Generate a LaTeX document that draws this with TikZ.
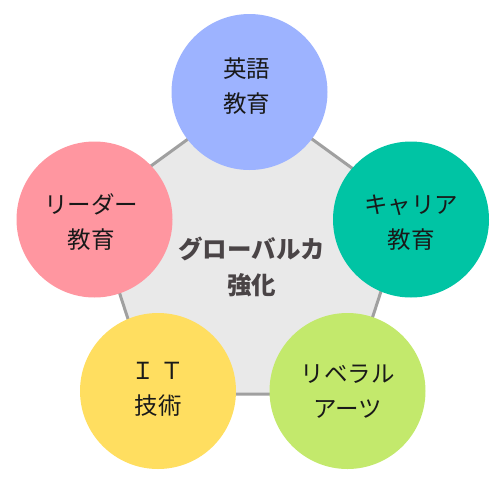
\documentclass[tikz,border=0pt]{standalone}
\usepackage{fontspec}
\setmainfont{Noto Sans CJK JP}
\definecolor{cblue}{HTML}{9DB3FF}
\definecolor{cpink}{HTML}{FF96A0}
\definecolor{cteal}{HTML}{00C4A4}
\definecolor{cyellow}{HTML}{FFDE60}
\definecolor{cgreen}{HTML}{C3E96C}
\definecolor{pfill}{HTML}{E9E9E9}
\definecolor{pline}{HTML}{A0A0A0}
\definecolor{ctext}{HTML}{4A4446}
\begin{document}
\begin{tikzpicture}[x=1pt,y=-1pt,
  bubble/.style={circle,minimum size=156pt,inner sep=0pt},
  lbl/.style={align=center,inner sep=0pt,
    font=\fontsize{23.5}{35}\selectfont,text=black!90},
  core/.style={align=center,inner sep=0pt,font=\fontsize{24.5}{36.5}\selectfont\bfseries,text=ctext}]
\useasboundingbox (0,0) rectangle (504,483);
% pentagon
\coordinate (p1) at (250,94);
\coordinate (p2) at (407.9,208.7);
\coordinate (p3) at (347.6,394);
\coordinate (p4) at (152.4,394);
\coordinate (p5) at (92.1,208.7);
\draw[pline,fill=pfill,line width=3pt,line join=miter] (p1)--(p2)--(p3)--(p4)--(p5)--cycle;
\node[core] (center) at (251.5,267) {グローバルカ\\強化};
\node[bubble,fill=cblue] (eng) at (249.5,92) {};
\node[bubble,fill=cpink] (lead) at (94.5,219.5) {};
\node[bubble,fill=cteal] (career) at (411,219.5) {};
\node[bubble,fill=cyellow] (it) at (158,391) {};
\node[bubble,fill=cgreen] (arts) at (347.5,391) {};
\node[lbl] (engt) at (246.5,86.5) {英語\\教育};
\node[lbl] (leadt) at (91.5,222.5) {リーダー\\教育};
\node[lbl] (careert) at (411,222.5) {キャリア\\教育};
\node[lbl] (itt) at (158,389) {Ｉ Ｔ\\技術};
\node[lbl] (artst) at (347.5,392) {リベラル\\アーツ};
\end{tikzpicture}
\end{document}
